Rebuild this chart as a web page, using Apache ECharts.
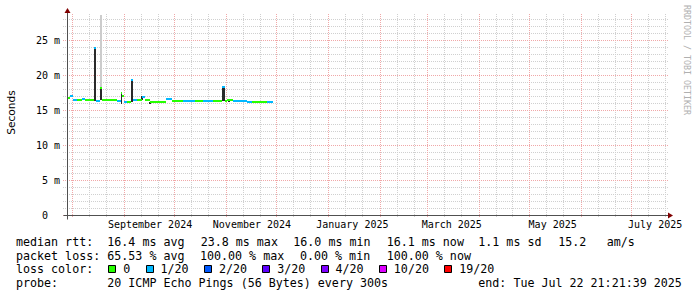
<!DOCTYPE html>
<html><head><meta charset="utf-8">
<script src="https://cdn.jsdelivr.net/npm/echarts@6/dist/echarts.min.js"></script>
<style>html,body{margin:0;padding:0;background:#fff}#c{width:697px;height:297px}</style>
</head><body><div id="c"></div>
<script>
// ---------------- data ----------------
const endTime = '2025-07-22T21:21:39';
const spanDays = 359;
const yMax = 201 / 7;

// median rtt segments (ms) : start of each step, value, pings lost (of 20)
const segStart = ['2024-07-28T22:00','2024-07-30T12:00','2024-08-01T12:00','2024-08-04T00:00','2024-08-07T00:00',
  '2024-08-08T12:00','2024-08-14T00:00','2024-08-15T00:00','2024-08-17T12:00','2024-08-19T00:00',
  '2024-08-28T00:00','2024-08-30T00:00','2024-08-31T00:00','2024-09-01T00:00','2024-09-02T12:00',
  '2024-09-05T00:00','2024-09-06T12:00','2024-09-08T12:00','2024-09-11T12:00','2024-09-13T12:00',
  '2024-09-16T12:00','2024-09-26T00:00','2024-09-29T12:00','2024-10-06T00:00','2024-10-13T12:00',
  '2024-10-18T00:00','2024-10-24T00:00','2024-10-29T12:00','2024-10-31T00:00','2024-11-01T12:00',
  '2024-11-05T00:00','2024-11-13T12:00','2024-11-16T12:00','2024-11-25T12:00'];
const lastEnd = '2024-11-29T00:00';
const segMedian = [16.7,17.0,16.4,16.4,16.6, 16.4,23.8,16.3,18.2,16.4, 16.3,17.5,17.0,16.1,16.2,
  19.3,16.4,16.4,16.9,16.5, 16.2,16.6,16.3,16.3,16.3, 16.3,16.3,18.3,16.3,16.5, 16.3,16.1,16.1,16.1];
const segLoss = [0,1,1,0,1, 0,1,1,0,0, 1,0,0,1,0, 1,1,0,1,0, 0,1,0,1,0, 1,0,1,0,0, 1,1,0,1];

// smoke (ping spread)
const smokeStart = ['2024-08-14T00:00','2024-08-17T12:00','2024-08-17T12:00','2024-08-30T00:00','2024-09-05T00:00',
  '2024-09-11T00:00','2024-09-16T00:00','2024-10-29T12:00','2024-11-02T00:00'];
const smokeEnd = ['2024-08-15T00:00','2024-08-19T00:00','2024-08-19T00:00','2024-08-31T00:00','2024-09-06T12:00',
  '2024-09-12T00:00','2024-09-17T00:00','2024-10-31T00:00','2024-11-03T00:00'];
const smokeLo = [16.3,18.2,16.4,15.8,16.2,16.4,15.9,16.3,16.2];
const smokeHi = [23.8,28.6,18.2,17.5,19.3,17.0,16.2,18.3,16.6];
const smokeShade = [1,0,1,1,1,1,1,1,1]; // 1 = dark, 0 = light

// loss colour legend
const lossLevels = [0,1,2,3,4,10,19];
const lossLabels = ['0','1/20','2/20','3/20','4/20','10/20','19/20'];
const lossColors = ['#26ff00','#00b8ff','#0059ff','#5e00ff','#7e00ff','#dd00ff','#ff0000'];

// x tick labels
const monthLabels = ['September 2024','November 2024','January 2025','March 2025','May 2025','July 2025'];
const monthLabelAt = ['2024-09-16T12:00','2024-11-16T09:00','2025-01-15T08:00','2025-03-15T17:00','2025-05-15T00:00','2025-07-15T05:00'];

// legend texts
const rttStats = ['16.4 ms avg','23.8 ms max','16.0 ms min','16.1 ms now','1.1 ms sd','15.2','am/s'];
const lossStats = ['65.53 % avg','100.00 % max','0.00 % min','100.00 % now'];
const probeText = '20 ICMP Echo Pings (56 Bytes) every 300s';
const endText = 'end: Tue Jul 22 21:21:39 2025';

// ---------------- helpers ----------------
function ts(s){ return new Date(s.length <= 10 ? s + 'T00:00:00' : s).getTime(); }
function lossColor(n){ let c = lossColors[0]; lossLevels.forEach((l,i)=>{ if (n >= l) c = lossColors[i]; }); return c; }
const xMax = ts(endTime);
const xMin = xMax - spanDays * 86400000;

// vertical grid (month starts major; 11th & 21st minor)
const vMajor = [], vMinor = [];
for (let y = 2024, m = 6; ; m++) {
  if (m > 11) { m = 0; y++; }
  [1, 11, 21].forEach(d => {
    const t = new Date(y, m, d).getTime();
    if (t > xMin && t < xMax) (d === 1 ? vMajor : vMinor).push(t);
  });
  if (y === 2025 && m === 7) break;
}
const hMajor = [], hMinor = [];
for (let v = 0; v <= 28; v++) (v % 5 === 0 ? hMajor : hMinor).push(v);

const RED = '#f0a8a8', GREY = '#d0d0d0';
const AXIS = '#505050', ARROW = '#800000';
const FONT_AX = '10px "DejaVu Sans Mono"';
const FONT_LG = '11.66px "DejaVu Sans Mono"';

const chart = echarts.init(document.getElementById('c'), null, {renderer: 'svg', width: 697, height: 297});

// legend graphics
const g = [];
function txt(x, y, s, extra){ g.push(Object.assign({type:'text', x:x, y:y, silent:true,
  style:{text:s, font:FONT_LG, fill:'#000', align:'left', verticalAlign:'middle'}}, extra||{})); }
const rowY = [242, 255.7, 269.4, 283.1];
txt(16, rowY[0], 'median rtt:');
[107.3,200.7,293.3,386.7,478.3,558.3,606.7].forEach((x,i)=>txt(x, rowY[0], rttStats[i]));
txt(16, rowY[1], 'packet loss:');
[107.3,200,300,386.7].forEach((x,i)=>txt(x, rowY[1], lossStats[i]));
txt(16, rowY[2], 'loss color:');
let sx = 108.3;
lossLabels.forEach((lab,i)=>{
  g.push({type:'rect', silent:true, shape:{x:Math.round(sx)+0.5, y:265.5, width:7, height:7},
    style:{fill:lossColors[i], stroke:'#000', lineWidth:1}});
  txt(sx + 15, rowY[2], lab);
  sx += 15 + (lab.length + 2) * 7.02 + 1.2;
});
txt(16, rowY[3], 'probe:');
txt(107.3, rowY[3], probeText);
txt(478.3, rowY[3], endText);
g.push({type:'text', x:10.5, y:112.5, rotation:Math.PI/2, silent:true,
  style:{text:'Seconds', font:'10.6px "DejaVu Sans"', fill:'#000', align:'center', verticalAlign:'middle'}});
g.push({type:'text', x:687, y:60, rotation:-Math.PI/2, silent:true,
  style:{text:'RRDTOOL / TOBI OETIKER', font:'8.3px "DejaVu Sans Mono"', fill:'#b0b0b0', align:'center', verticalAlign:'middle'}});

function hGridSeries(vals, color){
  return { type:'custom', silent:true, clip:false, encode:{y:0}, data:vals.map(v=>[v]), z:1,
    renderItem(p, api){
      const v = vals[p.dataIndex];
      const a = api.coord([xMin, v]), b = api.coord([xMax, v]);
      const y = Math.round(a[1]) + 0.5;
      return {type:'line', shape:{x1:Math.round(a[0]) - 4, y1:y, x2:Math.round(b[0]), y2:y},
        style:{stroke: color, fill: null, lineWidth:1, lineDash:[1,1]}};
    }};
}
function vGridSeries(vals, color, ext){
  return { type:'custom', silent:true, clip:false, encode:{x:0}, data:vals.map(v=>[v]), z:1,
    renderItem(p, api){
      const t = vals[p.dataIndex];
      const a = api.coord([t, 0]), b = api.coord([t, yMax]);
      const x = Math.round(a[0]) + 0.5;
      return {type:'line', shape:{x1:x, y1:Math.round(b[1]), x2:x, y2:Math.round(a[1]) + ext},
        style:{stroke: color, fill: null, lineWidth:1, lineDash:[1,1]}};
    }};
}

const option = {
  animation: false,
  backgroundColor: '#ffffff',
  grid: {left: 67, right: 29, top: 14, bottom: 82, containLabel: false, outerBoundsMode: 'none'},
  xAxis: {type:'time', min:xMin, max:xMax, axisLine:{show:false}, axisTick:{show:false},
    axisLabel:{show:false}, splitLine:{show:false}},
  yAxis: {type:'value', min:0, max:yMax, interval:5,
    axisLine:{show:false}, axisTick:{show:false}, splitLine:{show:false},
    axisLabel:{margin:7, fontFamily:'DejaVu Sans Mono', fontSize:10, color:'#000',
      formatter: v => { const r = Math.round(v); if (Math.abs(v - r) > 1e-6 || r % 5 !== 0) return ''; return r === 0 ? '0\u00a0\u00a0' : r + ' m'; }}},
  graphic: g,
  series: [
    hGridSeries(hMinor, GREY),
    vGridSeries(vMinor, GREY, 2),
    hGridSeries(hMajor, RED),
    vGridSeries(vMajor, RED, 3),
    { // smoke
      type:'custom', silent:true, clip:true, encode:{x:[0,1], y:[2,3]}, z:2,
      data: smokeStart.map((s,i)=>[ts(s), ts(smokeEnd[i]), smokeLo[i], smokeHi[i]]),
      renderItem(p, api){
        const i = p.dataIndex;
        const a = api.coord([ts(smokeStart[i]), smokeHi[i]]), b = api.coord([ts(smokeEnd[i]), smokeLo[i]]);
        const x = Math.round(a[0]), y = Math.round(a[1]);
        return {type:'rect', shape:{x:x, y:y, width:Math.max(1, Math.round(b[0]) - x), height:Math.round(b[1]) - y},
          style:{fill: smokeShade[i] ? '#2a2a2a' : '#cccccc'}};
      }
    },
    { // median rtt, coloured by loss
      type:'custom', silent:true, clip:true, encode:{x:[0,1], y:2}, z:3,
      data: segStart.map((s,i)=>[ts(s), ts(i + 1 < segStart.length ? segStart[i+1] : lastEnd), segMedian[i]]),
      renderItem(p, api){
        const i = p.dataIndex;
        const t1 = ts(i + 1 < segStart.length ? segStart[i+1] : lastEnd);
        const a = api.coord([ts(segStart[i]), segMedian[i]]), b = api.coord([t1, segMedian[i]]);
        const x = Math.round(a[0]);
        return {type:'rect', shape:{x:x, y:Math.round(a[1]) - 1, width:Math.round(b[0]) - x, height:2},
          style:{fill: lossColor(segLoss[i])}};
      }
    },
    { // x tick labels
      type:'custom', silent:true, clip:false, encode:{x:0}, z:3,
      data: monthLabelAt.map(s=>[ts(s)]),
      renderItem(p, api){
        const i = p.dataIndex;
        const a = api.coord([ts(monthLabelAt[i]), 0]);
        return {type:'text', x:a[0], y:a[1] + 9.5,
          style:{text: monthLabels[i], font:FONT_AX, fill:'#000', align:'center', verticalAlign:'middle'}};
      }
    },
    { // axes and arrows
      type:'custom', silent:true, clip:false, encode:{x:0, y:1}, data:[[xMin, 0]], z:4,
      renderItem(p, api){
        const o = api.coord([xMin, 0]), tr = api.coord([xMax, yMax]);
        const x0 = Math.round(o[0]) + 0.5, y0 = Math.round(o[1]) + 0.5;
        const xr = Math.round(tr[0]), yt = Math.round(tr[1]);
        return {type:'group', children:[
          {type:'line', shape:{x1:x0 - 4, y1:y0, x2:xr + 1, y2:y0}, style:{stroke:AXIS, lineWidth:1}},
          {type:'line', shape:{x1:x0, y1:y0 + 4, x2:x0, y2:yt - 1}, style:{stroke:AXIS, lineWidth:1}},
          {type:'polygon', shape:{points:[[xr, y0 - 3],[xr + 5, y0],[xr, y0 + 3]]}, style:{fill:ARROW}},
          {type:'polygon', shape:{points:[[x0 - 3, yt - 1],[x0, yt - 6],[x0 + 3, yt - 1]]}, style:{fill:ARROW}}
        ]};
      }
    }
  ]
};
chart.setOption(option);
</script>
</body></html>
